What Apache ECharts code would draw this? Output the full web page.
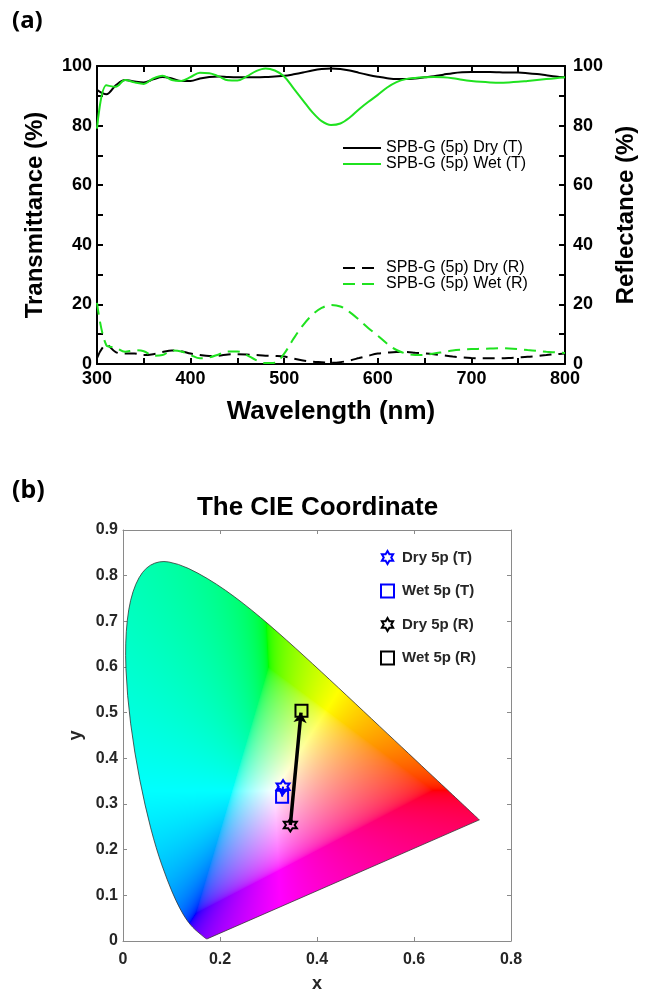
<!DOCTYPE html>
<html>
<head>
<meta charset="utf-8">
<script src="https://cdn.jsdelivr.net/npm/echarts@6.0.0/dist/echarts.min.js"></script>
<style>
html, body { margin: 0; padding: 0; background: #fff; }
#main { width: 653px; height: 991px; }
</style>
</head>
<body>
<div id="main"></div>
<script>
// (a) spectra, every 10 nm
var wavelength = [300, 310, 320, 330, 340, 350, 360, 370, 380, 390,
    400, 410, 420, 430, 440, 450, 460, 470, 480, 490,
    500, 510, 520, 530, 540, 550, 560, 570, 580, 590,
    600, 610, 620, 630, 640, 650, 660, 670, 680, 690,
    700, 710, 720, 730, 740, 750, 760, 770, 780, 790, 800];
var dryT = [92, 90.5, 93.5, 95.3, 94.8, 94.5, 95.5, 96.3, 95.8, 95,
    95, 95.8, 96.3, 96.5, 96.3, 96.2, 96.2, 96.2, 96.3, 96.5,
    96.7, 97.2, 97.8, 98.5, 99, 99.2, 99, 98.5, 97.7, 97,
    96.4, 95.9, 95.6, 95.6, 95.8, 96.2, 96.6, 97.1, 97.6, 97.9,
    98, 98, 98, 97.9, 97.8, 97.8, 97.6, 97.3, 96.9, 96.5, 96.2];
var wetT = [79, 93.5, 93, 95.3, 94.5, 94, 95.8, 96.7, 95.3, 95,
    96.3, 97.7, 97.6, 96.5, 95.2, 95.1, 96.5, 98.3, 99.2, 98.5,
    96.5, 92.5, 88.5, 84.5, 81.5, 80.2, 80.7, 82.7, 85.5, 88,
    90.3, 92.8, 94.6, 95.6, 96, 96.2, 96.3, 96.2, 95.9, 95.4,
    95, 94.7, 94.5, 94.4, 94.5, 94.7, 95, 95.3, 95.6, 95.9, 96.2];
var dryR = [2, 6.5, 4, 3.5, 3.5, 3, 3.3, 4, 4.5, 4.3,
    3.5, 3, 2.7, 2.8, 3.2, 3.3, 3.2, 3, 2.8, 2.7,
    2.5, 1.8, 1.2, 0.8, 0.6, 0.4, 0.6, 1.2, 2, 2.8,
    3.5, 3.8, 4, 4, 3.8, 3.6, 3.3, 2.9, 2.5, 2.2,
    2, 1.9, 1.9, 1.9, 2, 2.2, 2.4, 2.7, 3, 3.3, 3.5];
var wetR = [20.5, 6.3, 5.5, 4.1, 4.6, 4.3, 2.8, 3, 4.5, 4.2,
    3, 1.9, 2.2, 3.2, 4.2, 4.2, 3, 1.3, 0.3, 0.4,
    3.5, 8.5, 13, 16.5, 18.8, 19.8, 19.3, 17.4, 14.8, 12,
    9.5, 6.8, 4.7, 3.5, 3, 3.1, 3.5, 4, 4.5, 4.8,
    5, 5.1, 5.2, 5.3, 5.2, 5, 4.7, 4.4, 4.1, 3.9, 3.7];
var specNames = ['SPB-G (5p) Dry (T)', 'SPB-G (5p) Wet (T)', 'SPB-G (5p) Dry (R)', 'SPB-G (5p) Wet (R)'];

// (b) CIE 1931 spectral locus, 380-700 nm
var locusX = [0.1741, 0.1738, 0.1733, 0.1726, 0.1714, 0.1703, 0.1689, 0.1669, 0.1644, 0.1611,
    0.1566, 0.1510, 0.1440, 0.1355, 0.1241, 0.1096, 0.0913, 0.0687, 0.0454, 0.0235,
    0.0082, 0.0039, 0.0139, 0.0389, 0.0743, 0.1142, 0.1547, 0.1929, 0.2296, 0.2658,
    0.3016, 0.3373, 0.3731, 0.4087, 0.4441, 0.4788, 0.5125, 0.5448, 0.5752, 0.6029,
    0.6270, 0.6482, 0.6658, 0.6801, 0.6915, 0.7006, 0.7079, 0.7140, 0.7190, 0.7230,
    0.7260, 0.7300, 0.7320, 0.7334, 0.7347];
var locusY = [0.0050, 0.0049, 0.0048, 0.0048, 0.0051, 0.0058, 0.0069, 0.0086, 0.0109, 0.0138,
    0.0177, 0.0227, 0.0297, 0.0399, 0.0578, 0.0868, 0.1327, 0.2007, 0.2950, 0.4127,
    0.5384, 0.6548, 0.7502, 0.8120, 0.8338, 0.8262, 0.8059, 0.7816, 0.7543, 0.7243,
    0.6923, 0.6589, 0.6245, 0.5896, 0.5547, 0.5202, 0.4866, 0.4544, 0.4242, 0.3965,
    0.3725, 0.3514, 0.3340, 0.3197, 0.3083, 0.2993, 0.2920, 0.2859, 0.2809, 0.2770,
    0.2740, 0.2700, 0.2680, 0.2666, 0.2653];

var cieNames = ['Dry 5p (T)', 'Wet 5p (T)', 'Dry 5p (R)', 'Wet 5p (R)'];
var cieX = [0.330, 0.328, 0.345, 0.368];
var cieY = [0.338, 0.316, 0.254, 0.504];
var cieColors = ['#0000ff', '#0000ff', '#000000', '#000000'];

var FONT = 'Liberation Sans';
var GREEN = '#1fe21f';
var hexagram = 'path://M0,-10L2.89,-5L8.66,-5L5.77,0L8.66,5L2.89,5L0,10L-2.89,5L-8.66,5L-5.77,0L-8.66,-5L-2.89,-5Z';

function pairs(xs, ys) {
    return xs.map(function (x, i) { return [x, ys[i]]; });
}

// xy chromaticity -> sRGB; out of gamut colours get white added, brightest channel = 1
function xyToRgb(x, y) {
    var X = x / y, Y = 1, Z = (1 - x - y) / y;
    var c = [
        3.2406 * X - 1.5372 * Y - 0.4986 * Z,
        -0.9689 * X + 1.8758 * Y + 0.0415 * Z,
        0.0557 * X - 0.2040 * Y + 1.0570 * Z
    ];
    var mn = Math.min(c[0], c[1], c[2]);
    if (mn < 0) c = c.map(function (v) { return v - mn; });
    var m = Math.max(c[0], c[1], c[2]) || 1;
    return c.map(function (v) {
        v = v / m;
        v = v <= 0.0031308 ? 12.92 * v : 1.055 * Math.pow(v, 1 / 2.4) - 0.055;
        return Math.round(v * 255);
    });
}

var cieCanvas = null;
function renderGamut(params, api) {
    var tl = api.coord([0, 0.9]);
    var br = api.coord([0.8, 0]);
    var w = Math.round(br[0] - tl[0]), h = Math.round(br[1] - tl[1]);
    if (!cieCanvas) {
        cieCanvas = document.createElement('canvas');
        cieCanvas.width = w;
        cieCanvas.height = h;
        var ctx = cieCanvas.getContext('2d');
        var img = ctx.createImageData(w, h);
        for (var j = 0; j < h; j++) {
            var yy = Math.max(0.9 * (1 - (j + 0.5) / h), 0.002);
            for (var i = 0; i < w; i++) {
                var xx = 0.8 * (i + 0.5) / w;
                var rgb = xyToRgb(xx, yy);
                var q = (j * w + i) * 4;
                img.data[q] = rgb[0];
                img.data[q + 1] = rgb[1];
                img.data[q + 2] = rgb[2];
                img.data[q + 3] = 255;
            }
        }
        ctx.putImageData(img, 0, 0);

        // smooth outline of the horseshoe, mapped through the axes
        var pts = locusX.map(function (x, m) {
            var p = api.coord([x, locusY[m]]);
            return [p[0] - tl[0], p[1] - tl[1]];
        });
        function outline() {
            ctx.beginPath();
            ctx.moveTo(pts[0][0], pts[0][1]);
            ctx.lineTo((pts[0][0] + pts[1][0]) / 2, (pts[0][1] + pts[1][1]) / 2);
            for (var m = 1; m < pts.length - 1; m++) {
                ctx.quadraticCurveTo(pts[m][0], pts[m][1],
                    (pts[m][0] + pts[m + 1][0]) / 2, (pts[m][1] + pts[m + 1][1]) / 2);
            }
            ctx.lineTo(pts[pts.length - 1][0], pts[pts.length - 1][1]);
            ctx.closePath();
        }
        ctx.globalCompositeOperation = 'destination-in';
        outline();
        ctx.fill();
        ctx.globalCompositeOperation = 'source-over';
        outline();
        ctx.strokeStyle = '#333';
        ctx.lineWidth = 0.8;
        ctx.stroke();
    }
    return {
        type: 'image',
        silent: true,
        style: { image: cieCanvas, x: tl[0], y: tl[1], width: w, height: h }
    };
}

var chart = echarts.init(document.getElementById('main'));

var blackAxis = {
    axisLine: { show: true, onZero: false, lineStyle: { color: '#000', width: 2 } },
    axisTick: { show: true, inside: true, length: 6, lineStyle: { color: '#000', width: 2 } },
    splitLine: { show: false },
    axisLabel: { color: '#000', fontWeight: 'bold', fontSize: 18, fontFamily: FONT }
};
var grayAxis = {
    axisLine: { show: true, onZero: false, lineStyle: { color: '#8a8a8a', width: 1 } },
    axisTick: { show: true, inside: true, length: 4, lineStyle: { color: '#8a8a8a', width: 1 } },
    splitLine: { show: false },
    axisLabel: { color: '#262626', fontWeight: 'bold', fontSize: 16, fontFamily: FONT }
};
function axis(base, extra) {
    return echarts.util.merge(echarts.util.clone(base), extra, true);
}
var bigName = { fontSize: 24, fontWeight: 'bold', color: '#000', fontFamily: FONT };

function specLine(name, data, color, dashed) {
    return {
        name: name,
        type: 'line',
        xAxisIndex: 0,
        yAxisIndex: 0,
        data: pairs(wavelength, data),
        smooth: 0.35,
        symbol: 'none',
        lineStyle: { color: color, width: 2, type: dashed ? [12, 7] : 'solid' },
        itemStyle: { color: color }
    };
}

var cieSeries = cieNames.map(function (name, i) {
    return {
        name: name,
        type: 'scatter',
        xAxisIndex: 2,
        yAxisIndex: 2,
        z: 6,
        data: [[cieX[i], cieY[i]]],
        symbol: i % 2 === 0 ? hexagram : 'rect',
        symbolSize: i % 2 === 0 ? 13 : 12,
        itemStyle: { color: 'rgba(0,0,0,0)', borderColor: cieColors[i], borderWidth: 2, opacity: 1 }
    };
});

var lineLegend = {
    orient: 'vertical', left: 337, padding: 5,
    itemWidth: 38, itemHeight: 12, itemGap: 0,
    itemStyle: { opacity: 0 },
    textStyle: { fontSize: 16, color: '#000', fontFamily: FONT }
};

var option = {
    animation: false,
    textStyle: { fontFamily: FONT },
    grid: [
        { left: 97, top: 66, width: 468, height: 298, outerBoundsMode: 'none' },
        { left: 123, top: 530, width: 388, height: 411, outerBoundsMode: 'none' }
    ],
    xAxis: [
        axis(blackAxis, {
            type: 'value', gridIndex: 0, min: 300, max: 800, interval: 50,
            axisLabel: { margin: 6, formatter: function (v) { return v % 100 === 0 ? v : ''; } },
            name: 'Wavelength (nm)', nameLocation: 'middle', nameGap: 35,
            nameTextStyle: { fontSize: 26, fontWeight: 'bold', color: '#000', fontFamily: FONT }
        }),
        axis(blackAxis, {
            type: 'value', gridIndex: 0, position: 'top', min: 300, max: 800, interval: 50,
            axisLabel: { show: false }
        }),
        axis(grayAxis, {
            type: 'value', gridIndex: 1, min: 0, max: 0.8, interval: 0.2,
            axisLabel: { margin: 11, formatter: function (v) { return v === 0 ? '0' : v.toFixed(1); } },
            name: 'x', nameLocation: 'middle', nameGap: 34,
            nameTextStyle: { fontSize: 18, fontWeight: 'bold', color: '#262626', fontFamily: FONT }
        }),
        axis(grayAxis, {
            type: 'value', gridIndex: 1, position: 'top', min: 0, max: 0.8, interval: 0.2,
            axisLabel: { show: false }
        })
    ],
    yAxis: [
        axis(blackAxis, {
            type: 'value', gridIndex: 0, min: 0, max: 100, interval: 10,
            axisLabel: { margin: 5, formatter: function (v) { return v % 20 === 0 ? v : ''; } },
            name: 'Transmittance (%)', nameLocation: 'middle', nameGap: 50, nameTextStyle: bigName
        }),
        axis(blackAxis, {
            type: 'value', gridIndex: 0, position: 'right', min: 0, max: 100, interval: 10,
            axisLabel: { margin: 8, formatter: function (v) { return v % 20 === 0 ? v : ''; } },
            name: 'Reflectance (%)', nameLocation: 'middle', nameGap: 46, nameTextStyle: bigName
        }),
        axis(grayAxis, {
            type: 'value', gridIndex: 1, min: 0, max: 0.9, interval: 0.1,
            axisLabel: { margin: 5, formatter: function (v) { return v === 0 ? '0' : v.toFixed(1); } },
            name: 'y', nameLocation: 'middle', nameGap: 32,
            nameTextStyle: { fontSize: 18, fontWeight: 'bold', color: '#262626', fontFamily: FONT }
        }),
        axis(grayAxis, {
            type: 'value', gridIndex: 1, position: 'right', min: 0, max: 0.9, interval: 0.1,
            axisLabel: { show: false }
        })
    ],
    legend: [
        echarts.util.merge({ data: specNames.slice(0, 2), top: 135 }, lineLegend),
        echarts.util.merge({ data: specNames.slice(2, 4), top: 255 }, lineLegend),
        {
            data: cieNames, orient: 'vertical', left: 375, top: 545,
            itemWidth: 13, itemHeight: 13, itemGap: 18.5,
            textStyle: { fontSize: 15, fontWeight: 'bold', color: '#262626', fontFamily: FONT, padding: [0, 0, 0, 3] }
        }
    ],
    graphic: [
        { type: 'text', x: 12, y: 9, style: { text: '(a)', font: 'bold 24px "Noto Sans"', fill: '#000' } },
        { type: 'text', x: 12, y: 478, style: { text: '(b)', font: 'bold 25px "Noto Sans"', fill: '#000' } },
        {
            type: 'text', x: 317.5, y: 495,
            style: { text: 'The CIE Coordinate', font: 'bold 26px "Liberation Sans"', fill: '#000', align: 'center', textAlign: 'center' }
        }
    ],
    series: [
        specLine(specNames[0], dryT, '#000', false),
        specLine(specNames[1], wetT, GREEN, false),
        specLine(specNames[2], dryR, '#000', true),
        specLine(specNames[3], wetR, GREEN, true),
        {
            type: 'custom',
            xAxisIndex: 2,
            yAxisIndex: 2,
            z: 1,
            silent: true,
            data: [[0.4, 0.45]],
            renderItem: renderGamut
        },
        {
            type: 'lines',
            coordinateSystem: 'cartesian2d',
            xAxisIndex: 2,
            yAxisIndex: 2,
            z: 5,
            silent: true,
            symbol: ['none', 'arrow'],
            symbolSize: 10,
            data: [
                { coords: [[cieX[2], cieY[2]], [cieX[3] - 0.001, cieY[3] - 0.004]], lineStyle: { color: '#000', width: 3.5, opacity: 1 } },
                { coords: [[cieX[0], cieY[0]], [cieX[1], cieY[1]]], lineStyle: { color: '#0000ff', width: 2, opacity: 1 } }
            ]
        }
    ].concat(cieSeries)
};

chart.setOption(option);
</script>
</body>
</html>
